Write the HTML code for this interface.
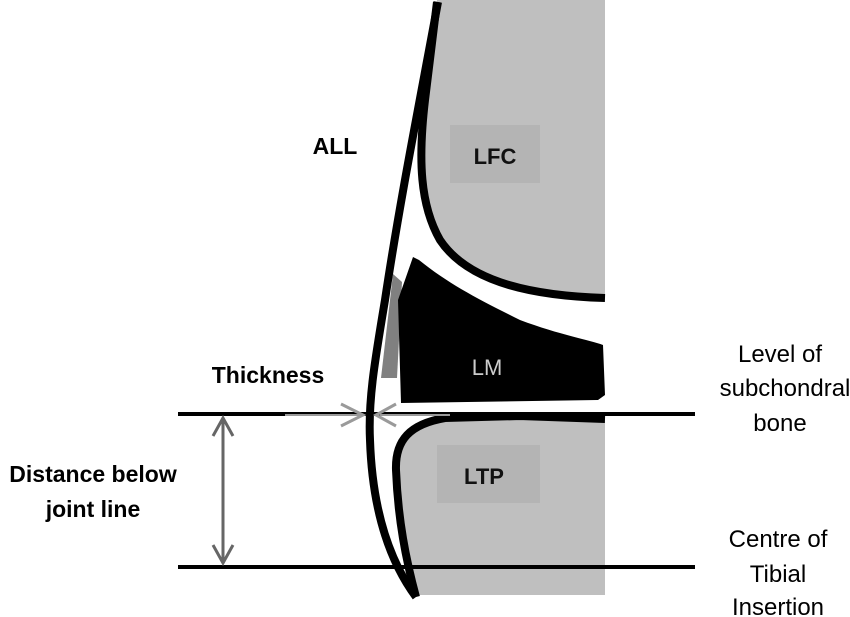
<!DOCTYPE html>
<html><head><meta charset="utf-8"><style>
html,body{margin:0;padding:0;background:#fff;}
svg{display:block;}
text{font-family:"Liberation Sans",sans-serif;}
</style></head><body>
<svg width="850" height="617" viewBox="0 0 850 617" xmlns="http://www.w3.org/2000/svg">
<path d="M437,0 L605,0 L605,298 C540,296 470,285 440,240 C420,205 418,160 425,100 L437,0 Z" fill="#bfbfbf"/>
<rect x="450" y="125" width="90" height="58" fill="#b4b4b4"/>
<path d="M437,2 L425,100 C418,160 420,205 440,240 C470,285 540,296 605,298" fill="none" stroke="#000" stroke-width="8"/>
<path d="M605,418 L605,595 L416,595 C408,560 400,520 397,470 C396,440 410,425 445,420 Z" fill="#bfbfbf"/>
<rect x="437" y="445" width="103" height="58" fill="#b4b4b4"/>
<path d="M605,419 L520,416 L445,418 C410,424 395,440 396,470 C398,520 406,560 416,597" fill="none" stroke="#000" stroke-width="8"/>
<path d="M393,274 L402,282 L397,378 L381,378 Z" fill="#808080"/>
<path d="M413,257 L419,260 C450,285 480,300 520,320 C560,335 590,340 603,345 L605,395 L598,400 L401,403 L398,300 Z" fill="#000"/>
<path d="M438,2 C420,100 400,200 385,300 C375,360 368,400 370,440 C372,500 385,555 416,597" fill="none" stroke="#000" stroke-width="8"/>
<line x1="178" y1="414" x2="695" y2="414" stroke="#000" stroke-width="4"/>
<line x1="178" y1="567" x2="695" y2="567" stroke="#000" stroke-width="4"/>
<line x1="285" y1="415" x2="360" y2="415" stroke="#9a9a9a" stroke-width="2"/>
<line x1="380" y1="415" x2="450" y2="415" stroke="#9a9a9a" stroke-width="2"/>
<polyline points="341,404 363,415 341,426" fill="none" stroke="#9a9a9a" stroke-width="3"/>
<polyline points="396,404 376,415 396,426" fill="none" stroke="#9a9a9a" stroke-width="3"/>
<line x1="223" y1="418" x2="223" y2="563" stroke="#666" stroke-width="3"/>
<polyline points="213,436 223,418 233,436" fill="none" stroke="#666" stroke-width="3"/>
<polyline points="213,545 223,563 233,545" fill="none" stroke="#666" stroke-width="3"/>
<text x="335" y="154" font-size="23" font-weight="bold" text-anchor="middle">ALL</text>
<text x="495" y="164" font-size="22" font-weight="bold" text-anchor="middle" fill="#111">LFC</text>
<text x="487" y="375" font-size="22" text-anchor="middle" fill="#ccc">LM</text>
<text x="484" y="484" font-size="22" font-weight="bold" text-anchor="middle" fill="#111">LTP</text>
<text x="268" y="383" font-size="23" font-weight="bold" text-anchor="middle">Thickness</text>
<text x="93" y="482" font-size="23" font-weight="bold" text-anchor="middle">Distance below</text>
<text x="93" y="517" font-size="23" font-weight="bold" text-anchor="middle">joint line</text>
<text x="780" y="362" font-size="24" text-anchor="middle">Level of</text>
<text x="785" y="396" font-size="24" text-anchor="middle">subchondral</text>
<text x="780" y="431" font-size="24" text-anchor="middle">bone</text>
<text x="778" y="547" font-size="24" text-anchor="middle">Centre of</text>
<text x="778" y="582" font-size="24" text-anchor="middle">Tibial</text>
<text x="778" y="615" font-size="24" text-anchor="middle">Insertion</text>
</svg>
</body></html>
